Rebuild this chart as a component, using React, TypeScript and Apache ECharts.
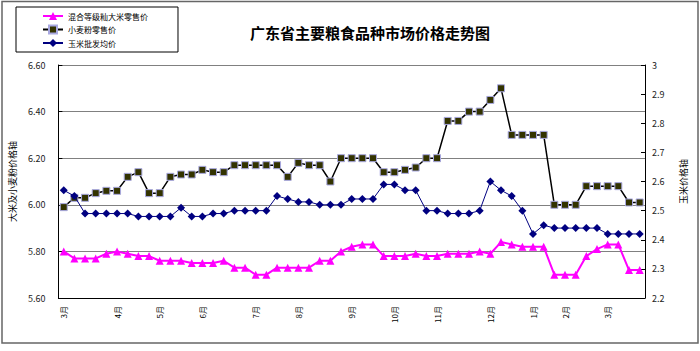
import React, { useEffect, useRef } from "react";
import * as echarts from "echarts";

const titleText = "广东省主要粮食品种市场价格走势图";
const seriesNames = ["混合等级籼大米零售价", "小麦粉零售价", "玉米批发均价"];
const leftAxisName = "大米及小麦粉价格轴";
const rightAxisName = "玉米价格轴";

const monthLabels = ["3月", "4月", "5月", "6月", "7月", "8月", "9月", "10月", "11月", "12月", "1月", "2月", "3月"];
const monthStartIndex = [0, 5, 9, 13, 18, 22, 27, 31, 35, 40, 44, 47, 51];
const pointCount = 55;

const riceRetail = [
  5.80, 5.77, 5.77, 5.77, 5.79, 5.80, 5.79, 5.78, 5.78, 5.76,
  5.76, 5.76, 5.75, 5.75, 5.75, 5.76, 5.73, 5.73, 5.70, 5.70,
  5.73, 5.73, 5.73, 5.73, 5.76, 5.76, 5.80, 5.82, 5.83, 5.83,
  5.78, 5.78, 5.78, 5.79, 5.78, 5.78, 5.79, 5.79, 5.79, 5.80,
  5.79, 5.84, 5.83, 5.82, 5.82, 5.82, 5.70, 5.70, 5.70, 5.78,
  5.81, 5.83, 5.83, 5.72, 5.72,
];

const flourRetail = [
  5.99, 6.03, 6.03, 6.05, 6.06, 6.06, 6.12, 6.14, 6.05, 6.05,
  6.12, 6.13, 6.13, 6.15, 6.14, 6.14, 6.17, 6.17, 6.17, 6.17,
  6.17, 6.12, 6.18, 6.17, 6.17, 6.10, 6.20, 6.20, 6.20, 6.20,
  6.14, 6.14, 6.15, 6.16, 6.20, 6.20, 6.36, 6.36, 6.40, 6.40,
  6.45, 6.50, 6.30, 6.30, 6.30, 6.30, 6.00, 6.00, 6.00, 6.08,
  6.08, 6.08, 6.08, 6.01, 6.01,
];

const cornWholesale = [
  2.57, 2.55, 2.49, 2.49, 2.49, 2.49, 2.49, 2.48, 2.48, 2.48,
  2.48, 2.51, 2.48, 2.48, 2.49, 2.49, 2.50, 2.50, 2.50, 2.50,
  2.55, 2.54, 2.53, 2.53, 2.52, 2.52, 2.52, 2.54, 2.54, 2.54,
  2.59, 2.59, 2.57, 2.57, 2.50, 2.50, 2.49, 2.49, 2.49, 2.50,
  2.60, 2.57, 2.55, 2.50, 2.42, 2.45, 2.44, 2.44, 2.44, 2.44,
  2.44, 2.42, 2.42, 2.42, 2.42,
];

const FONT = "'Noto Sans CJK SC', 'Noto Sans', sans-serif";

export default function App() {
  const ref = useRef<HTMLDivElement>(null);

  useEffect(() => {
    if (!ref.current) return;
    const chart = echarts.init(ref.current, null, { renderer: "svg" });

    const categories: string[] = [];
    for (let i = 0; i < pointCount; i++) {
      const k = monthStartIndex.indexOf(i);
      categories.push(k >= 0 ? monthLabels[k] : "");
    }

    chart.setOption({
      animation: false,
      backgroundColor: "#ffffff",
      textStyle: { fontFamily: FONT },
      title: {
        text: titleText,
        left: 365,
        top: 20,
        textAlign: "center",
        textStyle: { fontSize: 15, fontWeight: "bold", color: "#000", fontFamily: FONT },
      },
      legend: {
        orient: "vertical",
        left: 16,
        top: 7,
        padding: [5, 30, 5, 26],
        itemGap: 4.5,
        itemWidth: 20,
        itemHeight: 10,
        borderColor: "#000",
        borderWidth: 1,
        textStyle: { fontSize: 8, color: "#000", fontFamily: FONT },
        data: seriesNames,
      },
      graphic: [
        {
          type: "rect",
          shape: { x: 2, y: 1.5, width: 696, height: 341.5 },
          style: { fill: "none", stroke: "#666", lineWidth: 1.5 },
          silent: true,
        },
      ],
      grid: { left: 52, right: 55, top: 65, bottom: 53 },
      xAxis: {
        type: "category",
        data: categories,
        boundaryGap: true,
        axisLine: { lineStyle: { color: "#000", width: 1 } },
        axisTick: { inside: true, length: 3, interval: 0, lineStyle: { color: "#000" } },
        axisLabel: { interval: 0, rotate: 90, fontSize: 8, color: "#000", margin: 8, fontFamily: FONT },
        splitLine: { show: false },
      },
      yAxis: [
        {
          type: "value",
          min: 5.6,
          max: 6.6,
          interval: 0.2,
          position: "left",
          name: leftAxisName,
          nameLocation: "middle",
          nameRotate: 90,
          nameGap: 36,
          nameTextStyle: { fontSize: 9, color: "#000", fontFamily: FONT },
          axisLine: { show: true, lineStyle: { color: "#000", width: 1 } },
          axisTick: { show: true, inside: true, length: 4, lineStyle: { color: "#000" } },
          axisLabel: {
            fontSize: 9,
            color: "#222",
            margin: 13,
            fontFamily: FONT,
            formatter: (v: number) => v.toFixed(2),
          },
          splitLine: { show: true, lineStyle: { color: "#808080", width: 1.2 } },
        },
        {
          type: "value",
          min: 2.2,
          max: 3,
          interval: 0.1,
          position: "right",
          name: rightAxisName,
          nameLocation: "middle",
          nameRotate: 90,
          nameGap: 34,
          nameTextStyle: { fontSize: 9, color: "#000", fontFamily: FONT },
          axisLine: { show: true, lineStyle: { color: "#000", width: 1 } },
          axisTick: { show: true, inside: true, length: 4, lineStyle: { color: "#000" } },
          axisLabel: {
            fontSize: 9,
            color: "#222",
            margin: 7,
            fontFamily: FONT,
            formatter: (v: number) => {
              const r = Math.round(v * 10) / 10;
              return r === Math.round(r) ? String(Math.round(r)) : r.toFixed(1);
            },
          },
          splitLine: { show: false },
        },
      ],
      series: [
        {
          name: seriesNames[0],
          type: "line",
          yAxisIndex: 0,
          data: riceRetail,
          symbol: "triangle",
          symbolSize: 8,
          lineStyle: { color: "#FF00FF", width: 2 },
          itemStyle: { color: "#FF00FF" },
          z: 3,
        },
        {
          name: seriesNames[1],
          type: "line",
          yAxisIndex: 0,
          data: flourRetail,
          symbol: "rect",
          symbolSize: 7,
          lineStyle: { color: "#000", width: 1.5 },
          itemStyle: { color: "#333300", borderColor: "#a8a8e0", borderWidth: 1 },
          z: 4,
        },
        {
          name: seriesNames[2],
          type: "line",
          yAxisIndex: 1,
          data: cornWholesale,
          symbol: "diamond",
          symbolSize: 8,
          lineStyle: { color: "#000080", width: 1 },
          itemStyle: { color: "#000080" },
          z: 5,
        },
      ],
    });

    return () => chart.dispose();
  }, []);

  return (
    <div
      ref={ref}
      style={{ position: "fixed", left: 0, top: 0, width: 700, height: 351, background: "#fff" }}
    />
  );
}
